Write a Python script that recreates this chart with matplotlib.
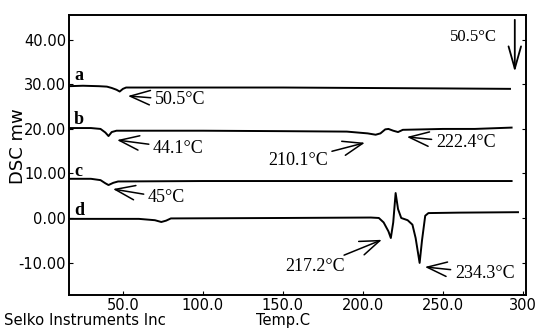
import matplotlib
matplotlib.use("Agg")
import matplotlib.pyplot as plt

# DSC curves (temperature in C, heat flow in mW)
temp_a = [16, 25, 35, 40, 43, 46, 48, 50, 52, 80, 150, 200, 250, 292]
dsc_a = [29.6, 29.7, 29.6, 29.5, 29.2, 28.8, 28.4, 29.0, 29.3, 29.3, 29.3, 29.2, 29.1, 29.0]

temp_b = [16, 30, 36, 39, 41, 43, 46, 80, 100, 150, 190, 203, 208, 211, 214, 216,
          219, 222, 225, 250, 270, 293]
dsc_b = [20.2, 20.2, 20.0, 19.2, 18.4, 19.3, 19.6, 19.6, 19.6, 19.5, 19.4, 19.0,
         18.7, 19.0, 19.9, 20.0, 19.6, 19.3, 19.8, 20.0, 20.0, 20.3]

temp_c = [16, 30, 36, 39, 41, 44, 47, 100, 200, 293]
dsc_c = [8.8, 8.8, 8.5, 7.8, 7.4, 7.9, 8.2, 8.3, 8.3, 8.3]

temp_d = [16, 60, 70, 74, 77, 80, 150, 205, 210, 213, 216, 217.5, 219, 220.5, 222,
          224, 228, 231, 233, 235.5, 237, 239, 241, 260, 297]
dsc_d = [-0.2, -0.2, -0.5, -0.9, -0.6, -0.1, 0.0, 0.1, 0.0, -1.0, -3.0, -4.5, -1.0,
         5.6, 2.0, 0.0, -0.5, -1.5, -4.5, -10.1, -5.0, 0.5, 1.1, 1.2, 1.3]

x_ticks = [50, 100, 150, 200, 250, 300]
x_labels = ["50.0", "100.0", "150.0", "200.0", "250.0", "300"]
y_ticks = [-10, 0, 10, 20, 30, 40]
y_labels = ["-10.00", "0.00", "10.00", "20.00", "30.00", "40.00"]

fig = plt.figure(figsize=(5.37, 3.33), dpi=100)
ax = fig.add_axes([0.1285, 0.1141, 0.851, 0.841])

for t, v in [(temp_a, dsc_a), (temp_b, dsc_b), (temp_c, dsc_c), (temp_d, dsc_d)]:
    ax.plot(t, v, color="black", lw=1.4)

ax.set_xlim(16.3, 302)
ax.set_ylim(-17.3, 45.6)
ax.set_xticks(x_ticks)
ax.set_xticklabels(x_labels, fontfamily="DejaVu Sans", fontsize=10.5)
ax.set_yticks(y_ticks)
ax.set_yticklabels(y_labels, fontfamily="DejaVu Sans", fontsize=10.5)
ax.tick_params(direction="in", length=3, right=True, pad=2)
for s in ax.spines.values():
    s.set_linewidth(1.4)

ax.set_ylabel("DSC mw", fontfamily="DejaVu Sans", fontsize=13)
ax.yaxis.set_label_coords(-0.092, 0.53)
fig.text(0.527, 0.025, "Temp.C", fontfamily="DejaVu Sans", fontsize=10.5, ha="center")
fig.text(0.008, 0.025, "Selko Instruments Inc", fontfamily="DejaVu Sans", fontsize=10.7)

serif = "Liberation Serif"
for lbl, y in [("a", 30.9), ("b", 21.0), ("c", 9.4), ("d", 0.6)]:
    ax.text(19.5, y, lbl, fontfamily=serif, fontweight="bold", fontsize=13)

arrow = dict(arrowstyle="->,head_length=1.1,head_width=0.4", color="black",
             lw=1.1, shrinkA=1, shrinkB=0)
notes = [
    ("50.5°C", (53.1, 27.4), (70, 26.5), "left"),
    ("44.1°C", (46.3, 17.5), (68.8, 15.7), "left"),
    ("210.1°C", (201.3, 16.9), (178.1, 13.0), "right"),
    ("222.4°C", (227.5, 18.2), (245.6, 16.9), "left"),
    ("45°C", (43.75, 6.5), (65.6, 4.5), "left"),
    ("217.2°C", (211.9, -4.9), (188.75, -11.0), "right"),
    ("234.3°C", (238.75, -11.0), (257.5, -12.4), "left"),
]
for txt, xy, xyt, ha in notes:
    ax.annotate(txt, xy=xy, xytext=xyt, ha=ha, va="center", fontfamily=serif,
                fontsize=13, arrowprops=arrow)

ax.text(283.8, 40.7, "50.5°C", ha="right", va="center", fontfamily=serif, fontsize=12)
ax.annotate("", xy=(295, 32.8), xytext=(295, 44.5),
            arrowprops=dict(arrowstyle="->,head_length=1.6,head_width=0.45",
                            color="black", lw=1.3, shrinkA=0, shrinkB=0))

fig.savefig("out.png", dpi=100)
